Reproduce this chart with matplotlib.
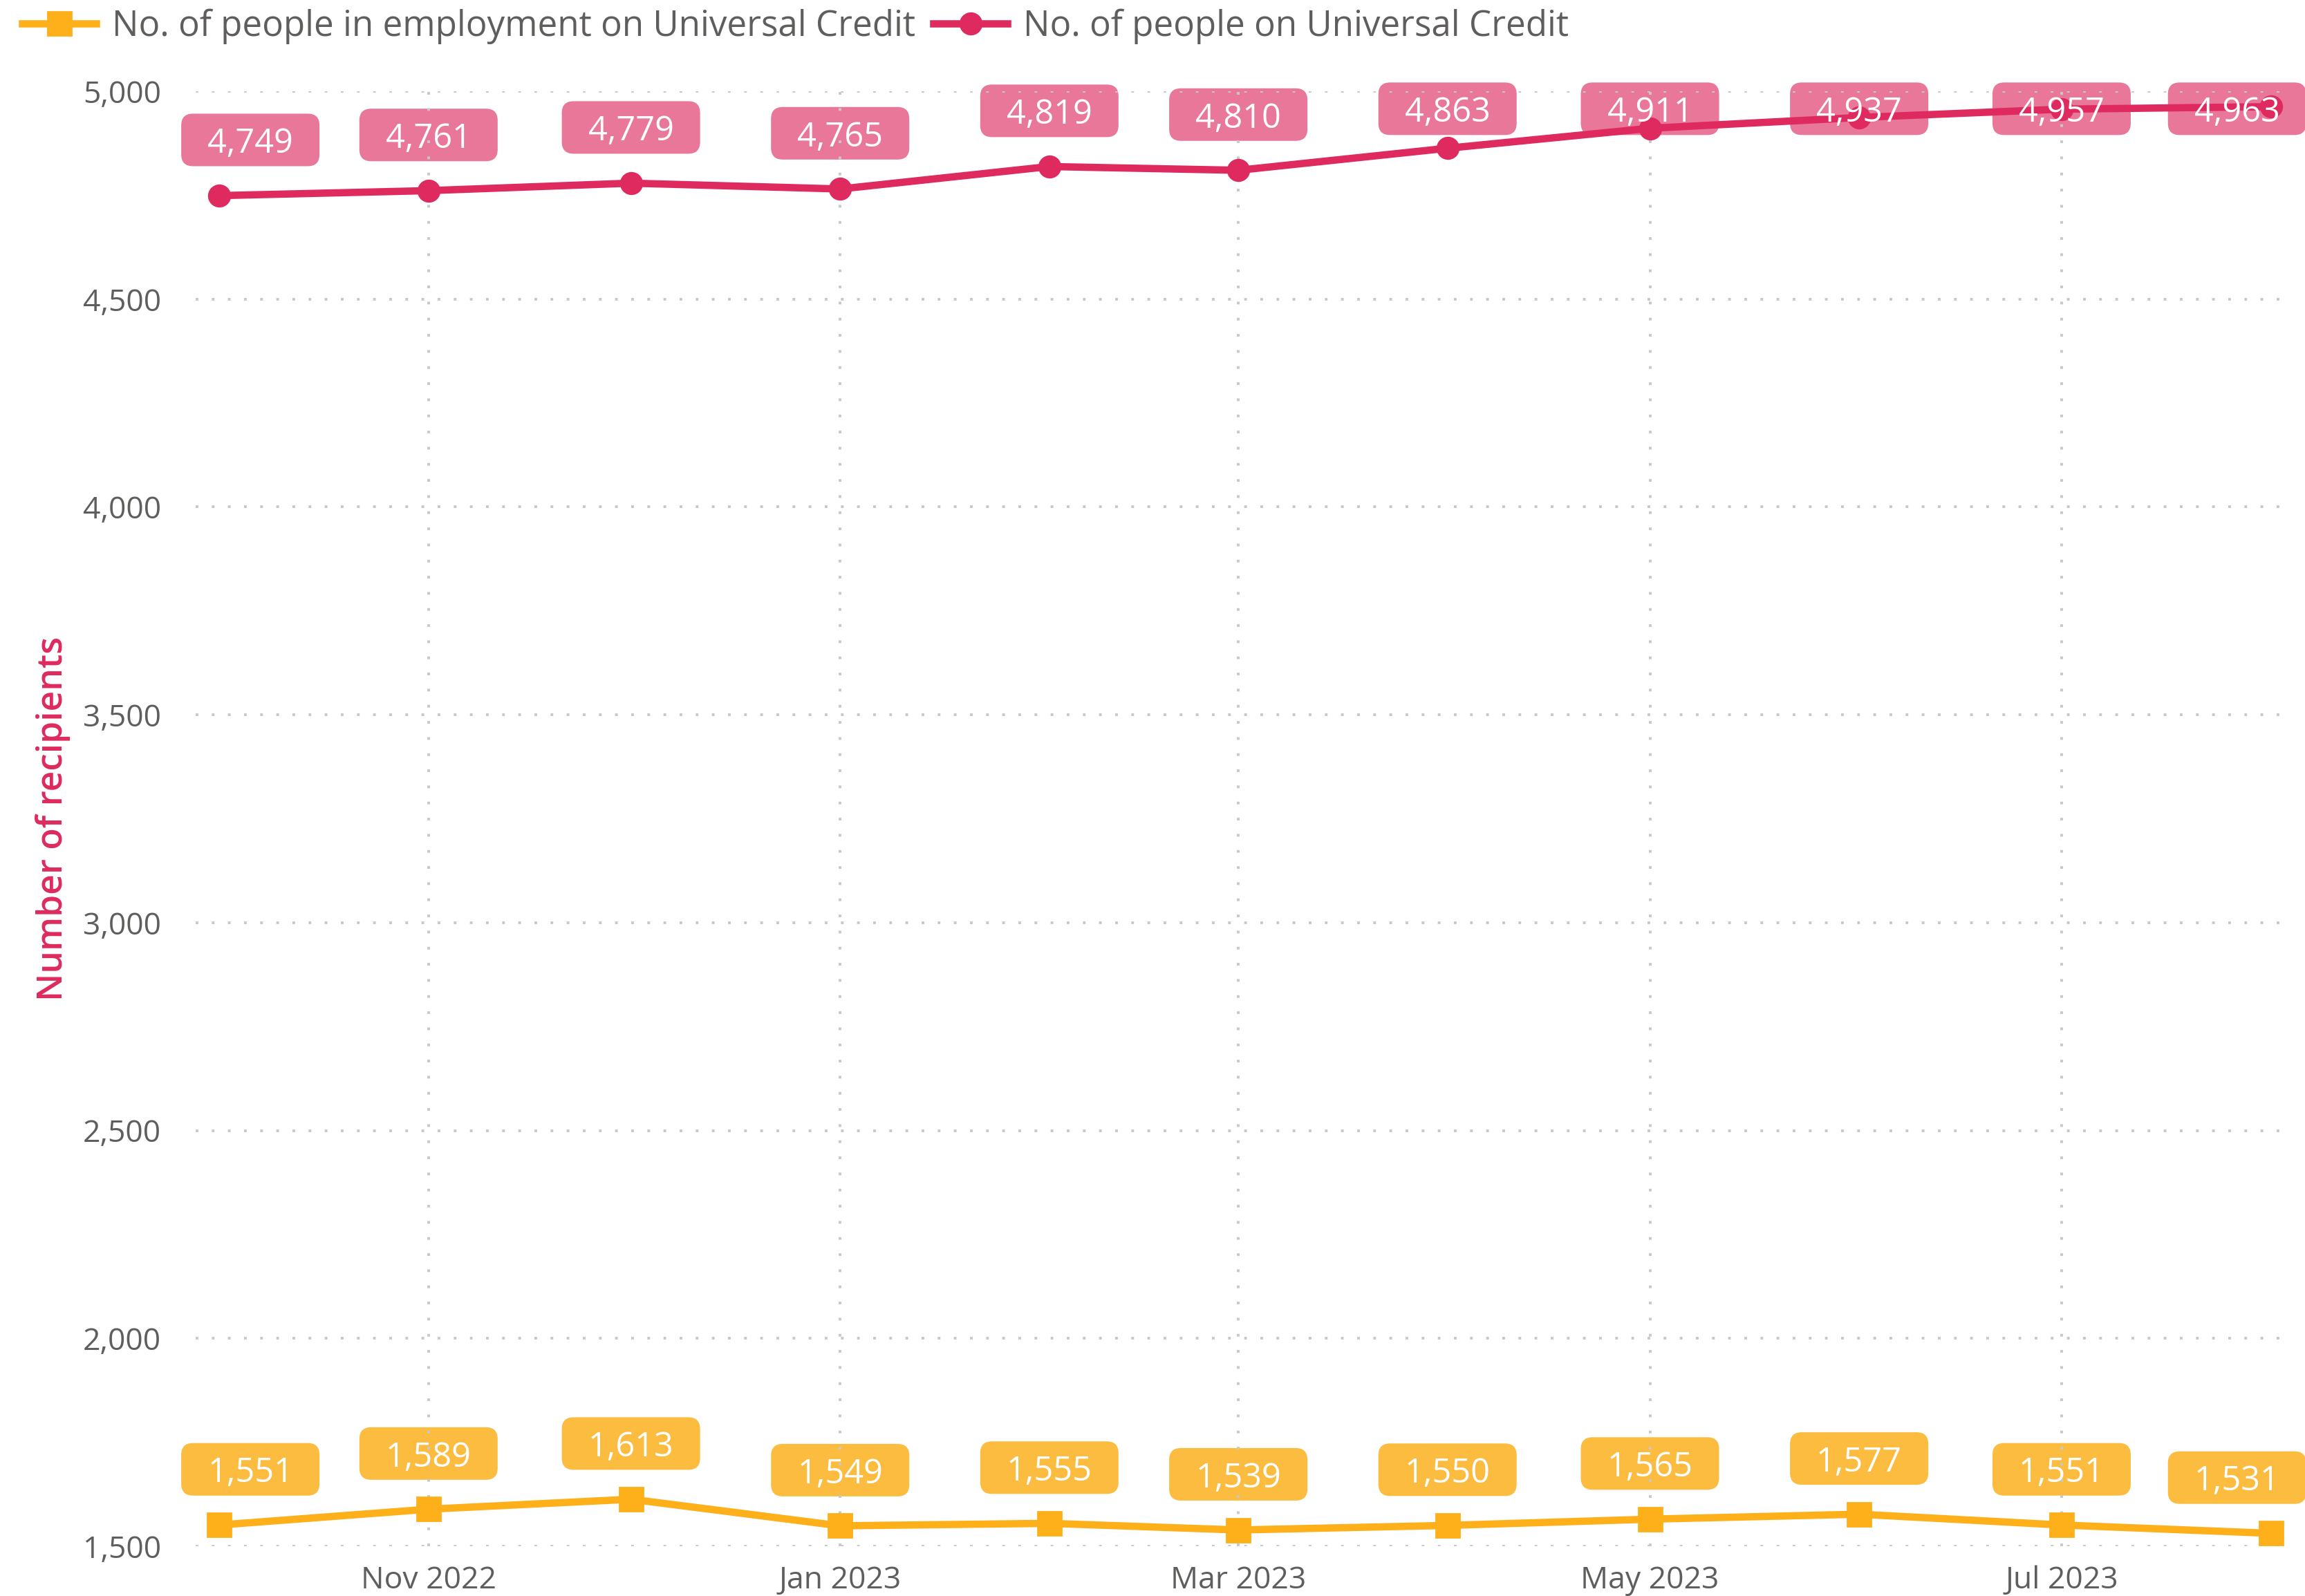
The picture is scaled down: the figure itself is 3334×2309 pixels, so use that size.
import datetime as dt
import matplotlib
matplotlib.use('Agg')
import matplotlib.pyplot as plt
import matplotlib.dates as mdates
from matplotlib.ticker import MultipleLocator, FuncFormatter
from matplotlib.lines import Line2D
from matplotlib.patches import FancyBboxPatch
from matplotlib.transforms import IdentityTransform

plt.rcParams['font.family'] = ['Open Sans', 'DejaVu Sans']

# data
months = ['2022-10', '2022-11', '2022-12', '2023-01', '2023-02', '2023-03',
          '2023-04', '2023-05', '2023-06', '2023-07', '2023-08']
on_uc = [4749, 4761, 4779, 4765, 4819, 4810, 4863, 4911, 4937, 4957, 4963]
in_work_uc = [1551, 1589, 1613, 1549, 1555, 1539, 1550, 1565, 1577, 1551, 1531]

dates = [dt.datetime.strptime(m, '%Y-%m') for m in months]

pink = '#DE2A5E'
pink_box = '#E8779A'
orange = '#FDB01A'
orange_box = '#FCBC40'
grey_txt = '#605E5C'
grid_col = '#C8C8C8'

fig = plt.figure(figsize=(16.67, 11.545), dpi=200)
ax = fig.add_axes([0.0849, 0.0312, 0.9916 - 0.0849, 0.9428 - 0.0312])

ax.plot(dates, in_work_uc, color=orange, lw=3.8, marker='s', ms=12, zorder=3,
        solid_joinstyle='miter')
ax.plot(dates, on_uc, color=pink, lw=3.8, marker='o', ms=11, zorder=3)

ax.set_ylim(1500, 5000)
ax.set_xlim(dates[0] - dt.timedelta(days=3.5), dates[-1] + dt.timedelta(days=2.2))

# data labels: rounded box under grid+lines, white text on top
off = 134
top_cap = 4958
box_w, box_h = 200, 76  # pixels
for vals, bc in [(on_uc, pink_box), (in_work_uc, orange_box)]:
    for i, (d, v) in enumerate(zip(dates, vals)):
        x = d
        if i == 0:
            x = d + dt.timedelta(days=4.6)
        elif i == len(dates) - 1:
            x = d - dt.timedelta(days=5)
        y = min(v + off, top_cap)
        px, py = ax.transData.transform((mdates.date2num(x), y))
        box = FancyBboxPatch((px - box_w / 2, py - box_h / 2), box_w, box_h,
                             boxstyle='round,pad=0,rounding_size=17',
                             fc=bc, ec='none', transform=IdentityTransform(),
                             zorder=1, clip_on=False)
        ax.add_artist(box)
        ax.text(x, y, f'{v:,}', fontsize=17.5, color='white', ha='center',
                va='center_baseline', zorder=4, clip_on=False)

ax.yaxis.set_major_locator(MultipleLocator(500))
ax.yaxis.set_major_formatter(FuncFormatter(lambda v, p: f'{int(v):,}'))
ax.xaxis.set_major_locator(mdates.MonthLocator(bymonthday=1, interval=2))
ax.xaxis.set_major_formatter(mdates.DateFormatter('%b %Y'))

ax.grid(True, color=grid_col, lw=1.4, linestyle=(0, (1, 5)))
ax.set_axisbelow(False)
for sp in ax.spines.values():
    sp.set_visible(False)
ax.tick_params(axis='both', length=0, labelsize=16, labelcolor=grey_txt)
ax.tick_params(axis='y', pad=18)
ax.tick_params(axis='x', pad=10)

ax.set_ylabel('Number of recipients', fontsize=18.5, color=pink, fontweight='semibold')
ax.yaxis.set_label_coords(-0.060, 0.5)

handles = [
    Line2D([], [], color=orange, lw=3.8, marker='s', ms=12),
    Line2D([], [], color=pink, lw=3.8, marker='o', ms=11),
]
fig.legend(handles, ['No. of people in employment on Universal Credit',
                     'No. of people on Universal Credit'],
           loc='center left', bbox_to_anchor=(0.0096, 0.9835), ncol=2, frameon=False,
           fontsize=18.4, labelcolor=grey_txt, handlelength=2.1, handletextpad=0.45,
           columnspacing=0.5, borderaxespad=0, borderpad=0)

fig.savefig('out.png', dpi=200)
